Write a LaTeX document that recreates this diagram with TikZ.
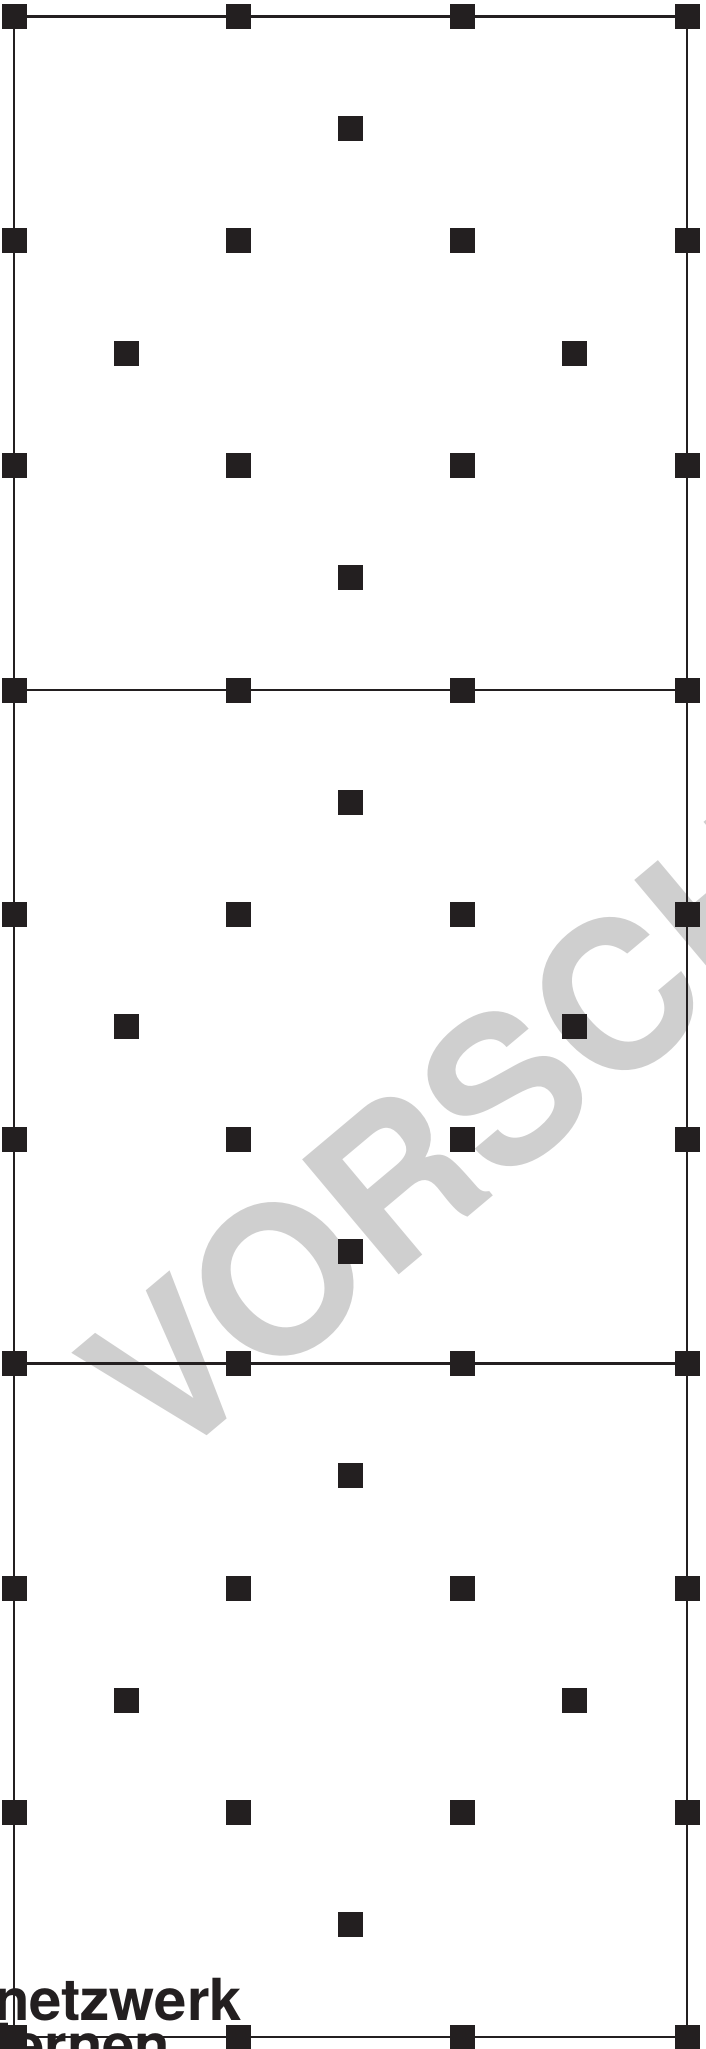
\documentclass[tikz,border=0pt]{standalone}
\usepackage{fontspec}
\newfontfamily\heros{TeX Gyre Heros}
\definecolor{ink}{RGB}{35,31,32}
\definecolor{wmgray}{RGB}{207,207,207}
\begin{document}
\begin{tikzpicture}[x=1pt,y=-1pt,
  dot/.style={fill=ink,draw=none,inner sep=0pt,minimum size=25pt,shape=rectangle},
  frame/.style={draw=ink,line width=2.2pt},
  wmark/.style={text=wmgray,font={\heros\bfseries\fontsize{206}{240}\selectfont},inner sep=0pt,anchor=base west,rotate=40},
  logo/.style={text=ink,font={\heros\bfseries\fontsize{58}{60}\selectfont},inner sep=0pt,anchor=base west}]
\useasboundingbox (0,0) rectangle (706,2049);
\clip (0,0) rectangle (706,2049);
\node[wmark] (wm) at (164,1472) {VORSCHAU};
\foreach \i in {0,...,3}{
  \foreach \j in {0,...,9}{
    \node[dot] (g-\i-\j) at ({14+224.33*\i},{16.5+224.5*\j}) {};
  }
}
\foreach \b in {0,1,2}{
  \pgfmathsetmacro\yb{16.5+673.5*\b}
  \node[dot] (m-\b-t) at (350.5,{\yb+112.25}) {};
  \node[dot] (m-\b-l) at (126.2,{\yb+336.75}) {};
  \node[dot] (m-\b-r) at (574.8,{\yb+336.75}) {};
  \node[dot] (m-\b-b) at (350.5,{\yb+561.25}) {};
}
\draw[frame] (g-0-0.center) -- (g-0-9.center);
\draw[frame] (g-3-0.center) -- (g-3-9.center);
\foreach \j in {0,3,6,9}{
  \draw[frame] (g-0-\j.center) -- (g-3-\j.center);
}
\node[logo] (nw) at (-6,2020) {netzwerk};
\node[logo] (ln) at (-4,2065) {lernen};
\end{tikzpicture}
\end{document}
